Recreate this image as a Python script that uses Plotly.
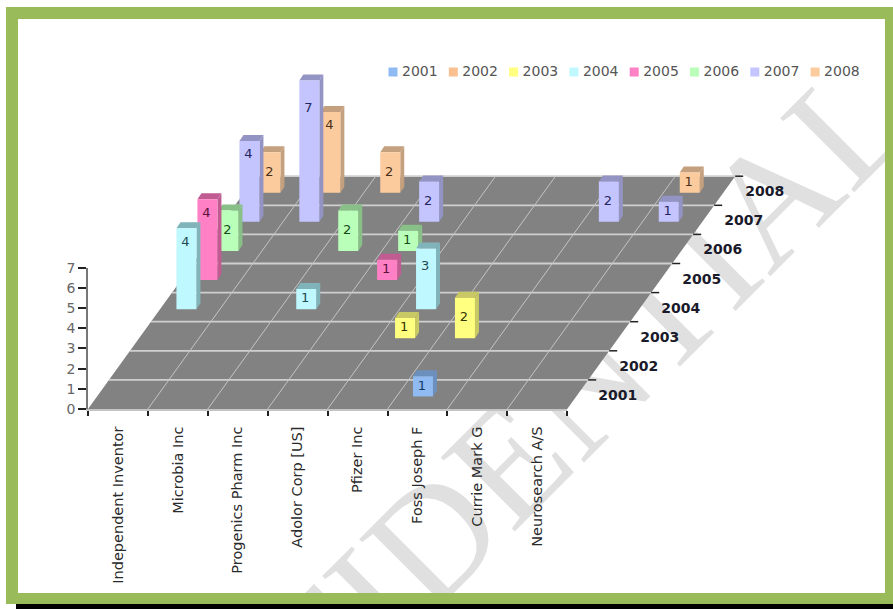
import plotly.graph_objects as go

COMPANIES = ["Independent Inventor", "Microbia Inc", "Progenics Pharm Inc", "Adolor Corp [US]",
             "Pfizer Inc", "Foss Joseph F", "Currie Mark G", "Neurosearch A/S"]
YEARS = ["2001", "2002", "2003", "2004", "2005", "2006", "2007", "2008"]
V2001 = [0, 0, 0, 0, 0, 1, 0, 0]
V2002 = [0, 0, 0, 0, 0, 0, 0, 0]
V2003 = [0, 0, 0, 0, 1, 2, 0, 0]
V2004 = [4, 0, 1, 0, 3, 0, 0, 0]
V2005 = [4, 0, 0, 1, 0, 0, 0, 0]
V2006 = [2, 0, 2, 1, 0, 0, 0, 0]
V2007 = [4, 7, 0, 2, 0, 0, 2, 1]
V2008 = [2, 4, 2, 0, 0, 0, 0, 1]
SERIES = [V2001, V2002, V2003, V2004, V2005, V2006, V2007, V2008]
FRONT = ["#8FBBF2", "#FAC08F", "#FFFF80", "#BFF8FF", "#FF80C4", "#B9FFB9", "#C4C4FF", "#FBCB9E"]
DARK = ["#6C90BE", "#C49A72", "#C8C864", "#80B4BA", "#C05C92", "#88C088", "#9494C4", "#C4A07E"]
TEXTC = ["#123A66", "#4A3018", "#333300", "#1E4A50", "#5A0F3A", "#174A17", "#24245E", "#4A3018"]
LABEL_POS = {1: 0.5, 2: 1.0, 3: 2.1, 4: 3.3, 7: 5.6}

W, H = 893, 609
X0, Y0, CAT_PX, VAL_PX = 88.0, 409.0, 59.9, 20.2
DEPTH_DX, DEPTH_DY = 21.0, 29.1


def ux(px):
    return (px - X0) / CAT_PX


def uy(py):
    return (Y0 - py) / VAL_PX


SX = DEPTH_DX / CAT_PX
SY = DEPTH_DY / VAL_PX


def proj(cat, depth, val=0.0, dx=0.0, dy=0.0):
    return cat + depth * SX + dx / CAT_PX, val + depth * SY + dy / VAL_PX


fig = go.Figure()


def poly(xs, ys, color):
    fig.add_trace(go.Scatter(x=xs, y=ys, mode="lines", fill="toself", fillcolor=color,
                             line=dict(width=0, color=color), hoverinfo="skip", showlegend=False))


def line(xs, ys, color, width):
    fig.add_trace(go.Scatter(x=xs, y=ys, mode="lines", line=dict(color=color, width=width),
                             hoverinfo="skip", showlegend=False))


n_cat, n_year = len(COMPANIES), len(YEARS)
# floor
c = [proj(0, 0), proj(n_cat, 0), proj(n_cat, n_year), proj(0, n_year), proj(0, 0)]
poly([p[0] for p in c], [p[1] for p in c], "#828282")
gx, gy = [], []
for d in range(1, n_year + 1):
    a, b = proj(0, d), proj(n_cat, d)
    gx += [a[0], b[0], None]
    gy += [a[1], b[1], None]
line(gx, gy, "#CFCFCF", 1.8)
gx, gy = [], []
for i in range(1, n_cat):
    a, b = proj(i, 0), proj(i, n_year)
    gx += [a[0], b[0], None]
    gy += [a[1], b[1], None]
line(gx, gy, "#C4C4C4", 1)

# depth ticks
gx, gy = [], []
for d in range(1, n_year + 1):
    a, b = proj(n_cat, d), proj(n_cat, d, dx=8)
    gx += [a[0], b[0], None]
    gy += [a[1], b[1], None]
line(gx, gy, "#222222", 1.5)
yl = [proj(n_cat, d + 0.5, dx=40, dy=-2) for d in range(n_year)]
fig.add_trace(go.Scatter(x=[p[0] for p in yl], y=[p[1] for p in yl], mode="text", text=YEARS,
                         textfont=dict(family="DejaVu Sans", size=14, color="#1A1A2A", weight="bold"),
                         textposition="middle center", hoverinfo="skip", showlegend=False, cliponaxis=False))

# bars, back row first
FW, SIDE_X, SIDE_Y, LIFT, SHIFT = 20.0, 4.0, 6.0, -2.0, -5.0
for k in reversed(range(n_year)):
    fx, fy, sx, sy, tx, ty, lx, ly, lt = [], [], [], [], [], [], [], [], []
    for i, v in enumerate(SERIES[k]):
        if not v:
            continue
        d = k + 0.5
        L, R = SHIFT - FW / 2, SHIFT + FW / 2
        p = lambda h, dx, dy=0.0: proj(i + 0.5, d, h, dx, LIFT + dy)
        f = [p(0, L), p(0, R), p(v, R), p(v, L), p(0, L)]
        s = [p(0, R), p(0, R + SIDE_X, SIDE_Y), p(v, R + SIDE_X, SIDE_Y), p(v, R), p(0, R)]
        t = [p(v, L), p(v, R), p(v, R + SIDE_X, SIDE_Y), p(v, L + SIDE_X, SIDE_Y), p(v, L)]
        for pts, xx, yy in ((f, fx, fy), (s, sx, sy), (t, tx, ty)):
            xx += [q[0] for q in pts] + [None]
            yy += [q[1] for q in pts] + [None]
        q = p(LABEL_POS[v], SHIFT - 1)
        lx.append(q[0]); ly.append(q[1]); lt.append(str(v))
    if lt:
        poly(sx, sy, DARK[k])
        poly(tx, ty, DARK[k])
        poly(fx, fy, FRONT[k])
        fig.add_trace(go.Scatter(x=lx, y=ly, mode="text", text=lt, textposition="middle center",
                                 textfont=dict(family="DejaVu Sans", size=13, color=TEXTC[k]),
                                 hoverinfo="skip", showlegend=False))

# legend
LEG_X, LEG_STEP, LEG_Y = 393.0, 60.3, 72.0
fig.add_trace(go.Scatter(x=[ux(LEG_X + LEG_STEP * k) for k in range(n_year)], y=[uy(LEG_Y)] * n_year,
                         mode="markers", marker=dict(symbol="square", size=9, color=FRONT, line=dict(width=0)),
                         hoverinfo="skip", showlegend=False))
fig.add_trace(go.Scatter(x=[ux(LEG_X + 9 + LEG_STEP * k) for k in range(n_year)], y=[uy(LEG_Y)] * n_year,
                         mode="text", text=YEARS, textposition="middle right",
                         textfont=dict(family="DejaVu Sans", size=14, color="#555555"),
                         hoverinfo="skip", showlegend=False, cliponaxis=False))

# invisible trace that brings up the native value / category axes
fig.add_trace(go.Scatter(x=[0], y=[0], xaxis="x2", yaxis="y2", mode="markers", marker=dict(opacity=0),
                         hoverinfo="skip", showlegend=False))


def rect(x0, y0, x1, y1, color, layer="above"):
    return dict(type="rect", xref="paper", yref="paper", x0=x0 / W, x1=x1 / W, y0=1 - y0 / H, y1=1 - y1 / H,
                fillcolor=color, line=dict(width=0), layer=layer)


GREEN = "#9ABB59"
shapes = [
    dict(type="rect", xref="paper", yref="paper", x0=455 / W, x1=455 / W, y0=1 - 491 / H, y1=1 - 491 / H,
         line=dict(width=0), layer="below",
         label=dict(text="CONFIDENTIAL", textangle=-45, textposition="middle center",
                    font=dict(family="Liberation Serif", size=160, color="#E0E0E0"))),
    rect(6, 7, 893, 19, GREEN),
    rect(6, 7, 18, 604, GREEN),
    rect(885, 7, 893, 604, GREEN),
    rect(6, 593, 893, 604, GREEN),
    rect(16, 604, 893, 609, "#000000"),
]

fig.update_layout(
    width=W, height=H, margin=dict(l=0, r=0, t=0, b=0, autoexpand=False), paper_bgcolor="white", plot_bgcolor="rgba(0,0,0,0)",
    showlegend=False, shapes=shapes,
    xaxis=dict(visible=False, domain=[0, 1], range=[ux(0), ux(W)], fixedrange=True, automargin=False),
    yaxis=dict(visible=False, domain=[0, 1], range=[uy(H), uy(0)], fixedrange=True, automargin=False),
    xaxis2=dict(domain=[X0 / W, (X0 + CAT_PX * n_cat) / W], range=[0, n_cat], anchor="y2", side="bottom",
                tickvals=[i + 0.5 for i in range(n_cat)], ticktext=COMPANIES, tickangle=-90, ticks="",
                ticklabelstandoff=10, showgrid=False, zeroline=False, showline=True, linecolor="#C4C4C4", linewidth=1.5,
                tickfont=dict(family="DejaVu Sans", size=14.5, color="#2A2A2A"), automargin=False,
                minor=dict(tickvals=list(range(n_cat + 1)), ticks="outside", ticklen=5, tickcolor="#222222", tickwidth=1.5),
                fixedrange=True),
    yaxis2=dict(domain=[1 - Y0 / H, 1 - (Y0 - VAL_PX * 7) / H], range=[0, 7], anchor="x2", side="left",
                tickvals=list(range(8)), ticks="outside", ticklen=8, tickcolor="#222222", tickwidth=1.5,
                showgrid=False, zeroline=False, showline=True, linecolor="#777777", linewidth=1.5, automargin=False,
                tickfont=dict(family="DejaVu Sans", size=14, color="#666666"), fixedrange=True),
)
fig.write_html("out.html", config=dict(displayModeBar=False),
               post_script="document.body.style.margin='0';")
